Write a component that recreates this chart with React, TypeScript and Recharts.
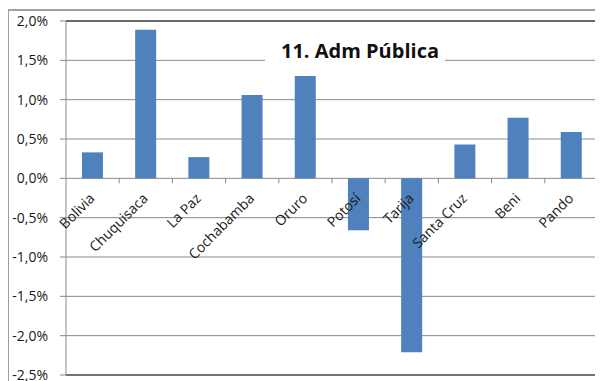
import { BarChart, Bar, XAxis, YAxis, CartesianGrid, ReferenceLine } from "recharts"

const regions = ["Bolivia", "Chuquisaca", "La Paz", "Cochabamba", "Oruro", "Potosí", "Tarija", "Santa Cruz", "Beni", "Pando"]
const growth = [0.33, 1.89, 0.27, 1.06, 1.3, -0.66, -2.21, 0.43, 0.77, 0.59]
const yTicks = [-2.5, -2, -1.5, -1, -0.5, 0, 0.5, 1, 1.5, 2]
const title = "11. Adm Pública"

const data = regions.map((name, i) => ({ name, value: growth[i] }))

const W = 592
const H = 380
const X_AXIS_H = 12
const M = { top: 10, right: 2, bottom: 4, left: 0 }
const Y_MIN = -2.5
const Y_MAX = 2
const FONT = "'Open Sans', sans-serif"
const GRID = "#898989"

const fmt = (v: number) => v.toFixed(1).replace(".", ",") + "%"

// x labels sit on the zero line, like Excel does
function CategoryTick(props: any) {
  const { x, payload } = props
  const plotH = H - M.top - M.bottom - X_AXIS_H
  const zeroY = M.top + plotH * (Y_MAX / (Y_MAX - Y_MIN))
  const half = payload.offset ?? 26.6
  const tx = x + 3
  const ty = zeroY + 21
  return (
    <g>
      <line x1={x + half} x2={x + half} y1={zeroY} y2={zeroY + 5} stroke={GRID} />
      <text
        x={tx}
        y={ty}
        transform={`rotate(-45 ${tx} ${ty})`}
        textAnchor="end"
        fontSize={14}
        fontFamily={FONT}
        fill="#1a1a1a"
      >
        {payload.value}
      </text>
    </g>
  )
}

export default function App() {
  return (
    <div
      style={{
        position: "relative",
        width: 600,
        height: 380,
        marginLeft: -1,
        marginTop: 1,
        border: "2px solid #a0a0a0",
        background: "#fff",
      }}
    >
      <BarChart width={W} height={H} data={data} margin={M} barCategoryGap="30%">
        <CartesianGrid vertical={false} stroke={GRID} />
        <XAxis
          dataKey="name"
          height={X_AXIS_H}
          axisLine={false}
          tickLine={false}
          interval={0}
          tick={<CategoryTick />}
        />
        <YAxis
          domain={[Y_MIN, Y_MAX]}
          ticks={yTicks}
          tickFormatter={fmt}
          width={57}
          stroke={GRID}
          tickSize={6}
          tickMargin={12}
          interval={0}
          tick={{ fontSize: 14, fontFamily: FONT, fill: "#1a1a1a" }}
        />
        <YAxis
          yAxisId="right"
          orientation="right"
          domain={[Y_MIN, Y_MAX]}
          width={1}
          tick={false}
          tickLine={false}
          stroke="#333"
        />
        <ReferenceLine y={Y_MAX} stroke="#111" />
        <ReferenceLine y={Y_MIN} stroke="#222" />
        <Bar dataKey="value" fill="#4f81bd" isAnimationActive={false} />
      </BarChart>
      <div
        style={{
          position: "absolute",
          left: 256,
          top: 24,
          width: 170,
          paddingLeft: 10,
          height: 31,
          lineHeight: "31px",
          background: "#fff",
          textAlign: "center",
          fontFamily: FONT,
          fontWeight: 700,
          fontSize: 20,
          color: "#111",
        }}
      >
        {title}
      </div>
    </div>
  )
}
